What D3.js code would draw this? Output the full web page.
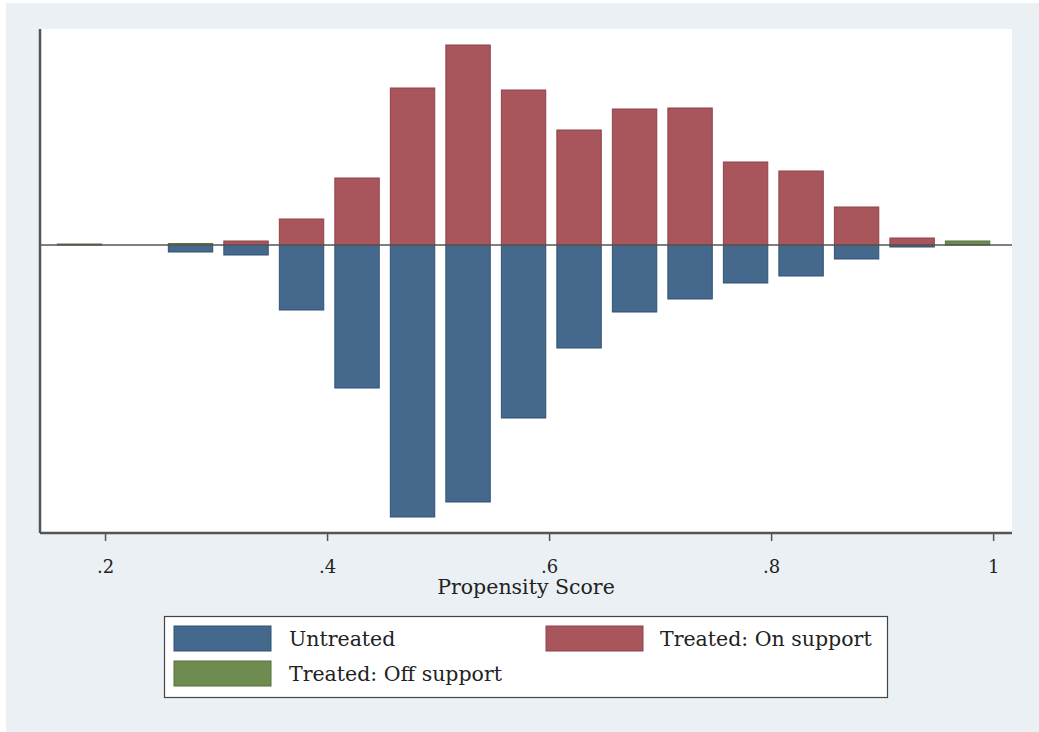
<!DOCTYPE html>
<html><head><meta charset="utf-8">
<script src="https://cdn.jsdelivr.net/npm/d3@7"></script>
<style>html,body{margin:0;padding:0;background:#fff;}svg{display:block;}</style>
</head><body>
<svg id="c" width="1039" height="732"></svg>
<script>
// bin centres (propensity score)
const binCenters = [0.177, 0.227, 0.277, 0.327, 0.377, 0.427, 0.477, 0.527, 0.577, 0.627, 0.677, 0.727, 0.777, 0.827, 0.877, 0.927, 0.977];
// frequencies (arbitrary units)
const untreated   = [0, 0, 7, 10, 65, 143, 272, 257, 173, 103, 67, 54, 38, 31, 14, 2, 0];
const onSupport   = [0, 0, 0, 4, 26, 67, 157, 200, 155, 115, 136, 137, 83, 74, 38, 7, 0];
const offSupport  = [1, 0, 1.5, 0, 0, 0, 0, 0, 0, 0, 0, 0, 0, 0, 0, 0, 4];
const xTicks = [0.2, 0.4, 0.6, 0.8, 1];
const xTickLabels = [".2", ".4", ".6", ".8", "1"];
const legendLabels = ["Untreated", "Treated: On support", "Treated: Off support"];
const colors = {untreated:"#44698d", on:"#a8555c", off:"#6e8c50"};
const strokes = {untreated:"#2f5275", on:"#8e4248", off:"#55703b"};

const svg = d3.select("#c");
const font = "'DejaVu Serif','Liberation Serif',serif";
const fs = 20.5;
// background
svg.append("rect").attr("x",6).attr("y",3).attr("width",1033).attr("height",729).attr("fill","#eaf0f3");
const L=40, R=1012, T=29, B=533;
svg.append("rect").attr("x",L).attr("y",T).attr("width",R-L).attr("height",B-T).attr("fill","#ffffff");

const x = d3.scaleLinear().domain([0.1414, 1.017]).range([L, R]);
const y = d3.scaleLinear().domain([-288, 216]).range([B, T]);
const binW = 0.04;

const g = svg.append("g");
function bars(vals, sign, key){
  g.selectAll(null).data(binCenters.map((c,i)=>({c, v:vals[i]})).filter(d=>d.v>0))
    .enter().append("rect")
    .attr("x", d=>x(d.c-binW/2))
    .attr("width", d=>x(d.c+binW/2)-x(d.c-binW/2))
    .attr("y", d=> sign>0 ? y(d.v) : y(0))
    .attr("height", d=> Math.abs(y(d.v)-y(0)))
    .attr("fill", colors[key]).attr("stroke", strokes[key]).attr("stroke-width",1);
}
bars(untreated, -1, "untreated");
bars(onSupport, 1, "on");
bars(offSupport, 1, "off");

// zero line
svg.append("line").attr("x1",L).attr("x2",R).attr("y1",y(0)).attr("y2",y(0))
  .attr("stroke","#555").attr("stroke-width",1.5);

// axes
const xAxis = d3.axisBottom(x).tickValues(xTicks).tickFormat((d,i)=>xTickLabels[i]).tickSize(8).tickPadding(19);
const ax = svg.append("g").attr("transform",`translate(0,${B})`).call(xAxis);
ax.select(".domain").attr("d", `M${L},0H${R}`).attr("stroke","#555").attr("stroke-width",2.5);
ax.selectAll(".tick line").attr("stroke","#555").attr("stroke-width",1.5);
ax.selectAll(".tick text").attr("font-family",font).attr("font-size",18).attr("fill","#222");
svg.append("line").attr("x1",L).attr("x2",L).attr("y1",T).attr("y2",B).attr("stroke","#555").attr("stroke-width",2.5);

svg.append("text").attr("x",(L+R)/2).attr("y",594).attr("text-anchor","middle")
  .attr("font-family",font).attr("font-size",fs).attr("fill","#222").text("Propensity Score");

// legend
svg.append("rect").attr("x",164.5).attr("y",616.5).attr("width",723).attr("height",81)
  .attr("fill","#fff").attr("stroke","#444").attr("stroke-width",1.2);
const leg = [
  {k:"untreated", sx:174, sy:626, tx:289, ty:646},
  {k:"on", sx:546, sy:626, tx:660, ty:646},
  {k:"off", sx:174, sy:661, tx:289, ty:681}
];
leg.forEach((d,i)=>{
  svg.append("rect").attr("x",d.sx).attr("y",d.sy).attr("width",97).attr("height",25)
    .attr("fill",colors[d.k]).attr("stroke",strokes[d.k]);
  svg.append("text").attr("x",d.tx).attr("y",d.ty).attr("font-family",font).attr("font-size",fs)
    .attr("fill","#222").text(legendLabels[i]);
});
</script>
</body></html>
